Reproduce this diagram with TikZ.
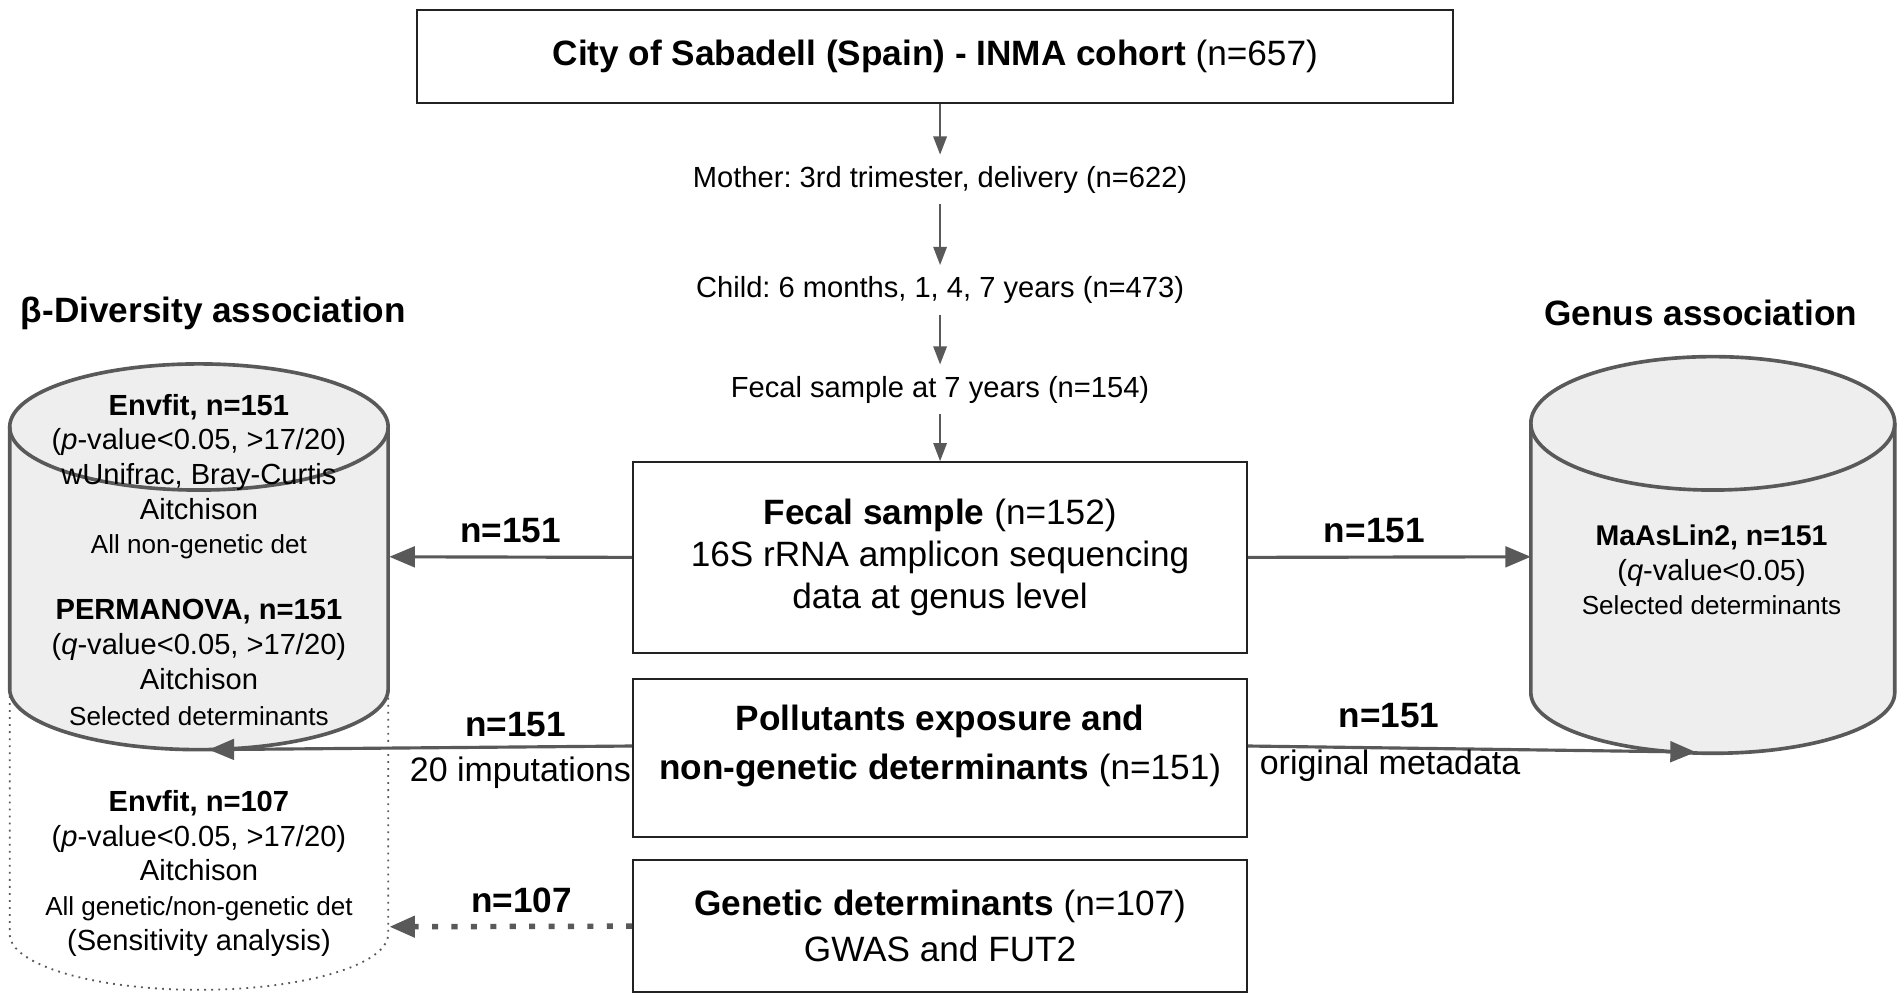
\documentclass[tikz,border=0pt]{standalone}
\usepackage{fontspec}
\setmainfont{Liberation Sans}
\usetikzlibrary{arrows.meta}
\definecolor{lgray}{HTML}{595959}
\definecolor{cylfill}{HTML}{EEEEEE}
\definecolor{boxline}{HTML}{222222}
\frenchspacing
\begin{document}
\frenchspacing
\begin{tikzpicture}[x=1pt,y=-1pt,
  box/.style={draw=boxline, line width=1.6pt, align=center, inner sep=0pt, minimum width=506pt},
  big/.style={font=\fontsize{29}{35}\selectfont},
  flowtext/.style={font=\fontsize{24}{28}\selectfont, inner sep=0pt, text height=18pt, text depth=5pt, outer ysep=9pt},
  main/.style={draw=lgray, line width=2.6pt, -{Triangle[length=21pt,width=17pt]}},
  flow/.style={draw=lgray, line width=1.8pt, -{Triangle[length=15pt,width=11pt]}},
  dotarrow/.style={draw=lgray, line width=4.5pt, dash pattern=on 5pt off 11pt, -{Triangle[length=21pt,width=17pt]}},
  cylline/.style={draw=lgray, line width=3pt},
  dotline/.style={draw=lgray, line width=1.5pt, dash pattern=on 1.5pt off 4.3pt},
  cyltext/.style={align=center, inner sep=0pt},
  lab/.style={font=\bfseries\fontsize{29}{35}\selectfont, inner sep=0pt},
  note/.style={font=\fontsize{28}{34}\selectfont, inner sep=0pt},
  heading/.style={font=\bfseries\fontsize{29}{35}\selectfont, inner sep=0pt},
]
\fill[white] (0,0) rectangle (1568,825);
\useasboundingbox (0,0) rectangle (1568,825);

% headings
\node[heading] (hl) at (176,258) {β-Diversity association};
\node[heading] (hr) at (1402,258) {Genus association};

% left cylinder
\fill[cylfill] (8,352) -- (8,568) arc[start angle=180,end angle=360,x radius=156pt,y radius=50pt] -- (320,352) arc[start angle=0,end angle=180,x radius=156pt,y radius=52pt] -- cycle;
\draw[dotline] (8,568) -- (8,770) arc[start angle=180,end angle=360,x radius=156pt,y radius=46pt] -- (320,568);
\draw[cylline] (8,352) -- (8,568) arc[start angle=180,end angle=360,x radius=156pt,y radius=50pt] -- (320,352);
\draw[cylline] (164,352) ellipse[x radius=156pt, y radius=52pt];

% right cylinder
\fill[cylfill] (1262,349) -- (1262,571) arc[start angle=180,end angle=360,x radius=150pt,y radius=50pt] -- (1562,349) arc[start angle=0,end angle=180,x radius=150pt,y radius=55pt] -- cycle;
\draw[cylline] (1262,349) -- (1262,571) arc[start angle=180,end angle=360,x radius=150pt,y radius=50pt] -- (1562,349);
\draw[cylline] (1412,349) ellipse[x radius=150pt, y radius=55pt];

% cylinder texts
\node[cyltext, font=\fontsize{24}{28.5}\selectfont] (env1) at (164,393)
  {{\bfseries Envfit, n=151}\\(\textit{p}-value<0.05, >17/20)\\wUnifrac, Bray-Curtis\\Aitchison\\{\fontsize{21.5}{28.5}\selectfont All non-genetic det}};
\node[cyltext, font=\fontsize{24}{29}\selectfont] (perm) at (164,546)
  {{\bfseries PERMANOVA, n=151}\\(\textit{q}-value<0.05, >17/20)\\Aitchison\\{\fontsize{21.5}{29}\selectfont Selected determinants}};
\node[cyltext, font=\fontsize{24}{28.75}\selectfont] (env2) at (164,720)
  {{\bfseries Envfit, n=107}\\(\textit{p}-value<0.05, >17/20)\\Aitchison\\{\fontsize{21.5}{28.75}\selectfont All genetic/non-genetic det}\\(Sensitivity analysis)};
\node[cyltext, font=\fontsize{24}{28.5}\selectfont] (maas) at (1411,470)
  {{\bfseries\fontsize{23.5}{28.5}\selectfont MaAsLin2, n=151}\\(\textit{q}-value<0.05)\\{\fontsize{21.5}{28.5}\selectfont Selected determinants}};

% central column
\node[box, minimum width=854pt, minimum height=77pt, big] (top) at (771,46.5)
  {\textbf{City of Sabadell (Spain) - INMA cohort} (n=657)};
\node[flowtext] (mother) at (775,148) {Mother: 3rd trimester, delivery (n=622)};
\node[flowtext] (child) at (775,239) {Child: 6 months, 1, 4, 7 years (n=473)};
\node[flowtext] (fecal7) at (775,321) {Fecal sample at 7 years (n=154)};
\node[box, minimum height=157pt, big] (fecal) at (775,459.5)
  {\textbf{Fecal sample} (n=152)\\16S rRNA amplicon sequencing\\data at genus level};
\node[box, minimum height=130pt] (poll) at (775,625) {};
\node[align=center, inner sep=0pt, font=\fontsize{29}{40}\selectfont] (polltext) at (775,615)
  {\textbf{Pollutants exposure and}\\\textbf{non-genetic determinants} (n=151)};
\node[box, minimum height=109pt, font=\fontsize{29}{38}\selectfont] (gen) at (775,763.5)
  {\textbf{Genetic determinants} (n=107)\\GWAS and FUT2};

\draw[flow] (top.south -| mother.north) -- (mother.north);
\draw[flow] (mother.south) -- (child.north);
\draw[flow] (child.south) -- (fecal7.north);
\draw[flow] (fecal7.south) -- (fecal7.south |- fecal.north);

% connectors
\coordinate (Lin1) at (321,459);
\coordinate (Rin1) at (1262,459);
\coordinate (Lin2) at (172,618);
\coordinate (Rin2) at (1398,620);
\coordinate (Lin3) at (321,764);
\draw[main] (fecal.west) -- (Lin1);
\draw[main] (fecal.east) -- (Rin1);
\draw[main] ([yshift=10pt]poll.west) -- (Lin2);
\draw[main] ([yshift=10pt]poll.east) -- (Rin2);
\draw[dotarrow] (gen.west) -- (Lin3);

% labels
\node[lab] (l1) at (421,437) {n=151};
\node[lab] (l2) at (1133,437) {n=151};
\node[lab] (l3) at (425,597) {n=151};
\node[note] (l3b) at (429,637) {20 imputations};
\node[lab] (l4) at (1145,590) {n=151};
\node[note] (l4b) at (1146,631) {original metadata};
\node[lab] (l5) at (430,742) {n=107};
\end{tikzpicture}
\end{document}
